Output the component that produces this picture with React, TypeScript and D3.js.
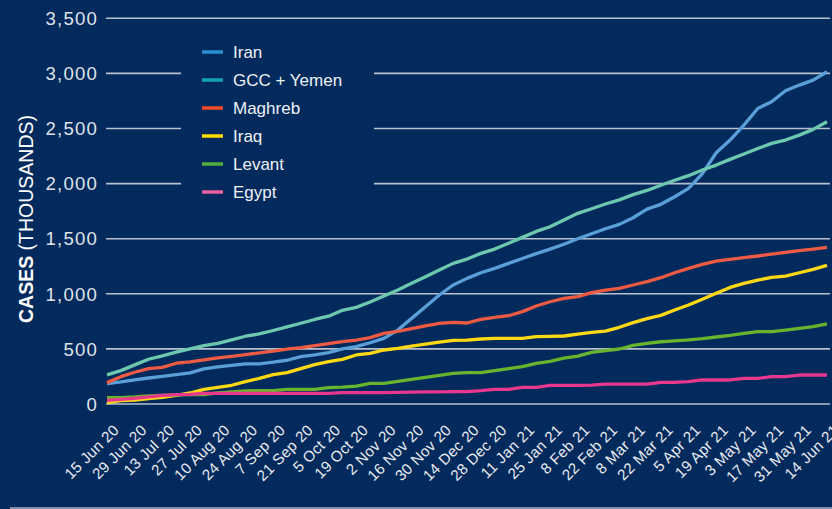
import React from 'react'
import * as d3 from 'd3'

// weekly totals, thousands of cases, 15 Jun 2020 .. 14 Jun 2021
const iran = [185, 200, 218, 236, 251, 267, 282, 318, 336, 351, 364, 364, 379, 397, 430, 445, 467, 500, 520, 556, 596, 671, 777, 883, 989, 1080, 1140, 1191, 1231, 1276, 1320, 1365, 1405, 1450, 1500, 1545, 1590, 1630, 1690, 1768, 1812, 1881, 1957, 2090, 2280, 2395, 2531, 2682, 2743, 2843, 2894, 2939, 3015]
const gcc = [264, 303, 355, 406, 436, 470, 500, 530, 551, 582, 615, 636, 667, 700, 733, 767, 797, 850, 877, 925, 980, 1034, 1095, 1155, 1216, 1276, 1315, 1367, 1406, 1458, 1512, 1566, 1609, 1669, 1730, 1772, 1815, 1852, 1900, 1938, 1985, 2030, 2072, 2123, 2168, 2220, 2268, 2319, 2365, 2395, 2440, 2492, 2561]
const maghreb = [194, 248, 288, 321, 333, 370, 382, 400, 418, 433, 448, 464, 479, 497, 512, 530, 548, 565, 580, 602, 641, 659, 683, 708, 732, 741, 735, 768, 786, 801, 838, 889, 928, 959, 974, 1010, 1034, 1049, 1080, 1110, 1146, 1191, 1231, 1267, 1297, 1312, 1328, 1343, 1361, 1376, 1391, 1406, 1421]
const iraq = [12, 30, 36, 48, 61, 79, 100, 133, 151, 170, 203, 233, 267, 285, 321, 358, 385, 405, 445, 460, 490, 505, 526, 544, 562, 578, 580, 590, 596, 596, 596, 611, 614, 617, 635, 650, 662, 696, 738, 774, 804, 853, 898, 950, 1004, 1058, 1095, 1125, 1149, 1161, 1191, 1222, 1258]
const levant = [58, 58, 64, 73, 79, 82, 85, 85, 100, 109, 118, 121, 121, 133, 133, 133, 148, 153, 163, 187, 187, 206, 224, 242, 260, 278, 284, 284, 302, 321, 339, 369, 387, 417, 435, 468, 484, 499, 532, 550, 565, 572, 581, 593, 608, 623, 641, 656, 656, 671, 686, 702, 726]
const egypt = [33, 42, 52, 64, 79, 85, 88, 97, 97, 97, 97, 97, 97, 97, 97, 97, 97, 103, 103, 103, 103, 106, 108, 110, 110, 112, 112, 121, 133, 133, 151, 151, 169, 169, 169, 172, 181, 181, 181, 181, 197, 197, 203, 218, 218, 218, 233, 233, 248, 248, 263, 263, 263]

const tickLabels = ['15 Jun 20', '29 Jun 20', '13 Jul 20', '27 Jul 20', '10 Aug 20', '24 Aug 20', '7 Sep 20', '21 Sep 20', '5 Oct 20', '19 Oct 20', '2 Nov 20', '16 Nov 20', '30 Nov 20', '14 Dec 20', '28 Dec 20', '11 Jan 21', '25 Jan 21', '8 Feb 21', '22 Feb 21', '8 Mar 21', '22 Mar 21', '5 Apr 21', '19 Apr 21', '3 May 21', '17 May 21', '31 May 21', '14 Jun 21']
const yTicks = [0, 500, 1000, 1500, 2000, 2500, 3000, 3500]

const series = [
  { name: 'Iran', values: iran, color: '#5a9fd8', key: '#2a8ed2' },
  { name: 'GCC + Yemen', values: gcc, color: '#6dc8b0', key: '#14a4b4' },
  { name: 'Maghreb', values: maghreb, color: '#ef5a42', key: '#f04b28' },
  { name: 'Iraq', values: iraq, color: '#ffd814', key: '#ffdc00' },
  { name: 'Levant', values: levant, color: '#68b42e', key: '#52ad3c' },
  { name: 'Egypt', values: egypt, color: '#e8388e', key: '#e8619e' },
]

const bg = '#022a5c'
const font = '"Liberation Sans", Arial, sans-serif'

export default function App() {
  const width = 832
  const height = 509
  const start = new Date(Date.UTC(2020, 5, 15))
  const weeks = d3.range(iran.length).map(i => d3.utcDay.offset(start, 7 * i))

  const x = d3.scaleUtc()
    .domain([weeks[0], weeks[weeks.length - 1]])
    .range([107, 827])
  const y = d3.scaleLinear()
    .domain([0, 3500])
    .range([404, 18.3])

  const line = d3.line<number>()
    .x((d, i) => x(weeks[i]))
    .y(d => y(d))

  const fmt = d3.format(',')

  return (
    <svg width={width} height={height} style={{ position: 'absolute', left: 0, top: 0, display: 'block' }}>
      <rect width={width} height={height} fill={bg} />

      {yTicks.map(t => (
        <g key={t}>
          <line x1={106} x2={830} y1={y(t)} y2={y(t)} stroke="#b9c0cd" strokeWidth={1.6} />
          <text x={98} y={y(t) + 6.7} textAnchor="end" fill="#dfe3ea"
            fontFamily={font} fontSize={18.6} letterSpacing={1.2}>{fmt(t)}</text>
        </g>
      ))}

      <text transform="translate(33,323) rotate(-90)" fill="#ffffff" fontFamily={font} fontSize={19.5}>
        <tspan fontWeight="bold">CASES</tspan>
        <tspan> (THOUSANDS)</tspan>
      </text>

      {series.map(s => (
        <path key={s.name} d={line(s.values) || ''} fill="none" stroke={s.color}
          strokeWidth={3.3} strokeLinejoin="round" />
      ))}

      {tickLabels.map((t, i) => {
        const px = x(weeks[i * 2]) + 13
        return (
          <text key={t} transform={`translate(${px},431) rotate(-45)`} textAnchor="end"
            fill="#e8ebf0" fontFamily={font} fontSize={15.2} letterSpacing={0.3}>{t}</text>
        )
      })}

      <rect x={181} y={28} width={193} height={178} fill={bg} />
      {series.map((s, i) => {
        const cy = 52 + i * 28
        return (
          <g key={s.name}>
            <line x1={202} x2={223} y1={cy} y2={cy} stroke={s.key} strokeWidth={3.5} />
            <text x={233} y={cy + 6} fill="#eef1f5" fontFamily={font} fontSize={17}>{s.name}</text>
          </g>
        )
      })}

      <line x1={10} x2={832} y1={508} y2={508} stroke="#7f90ad" strokeWidth={2} />
    </svg>
  )
}
